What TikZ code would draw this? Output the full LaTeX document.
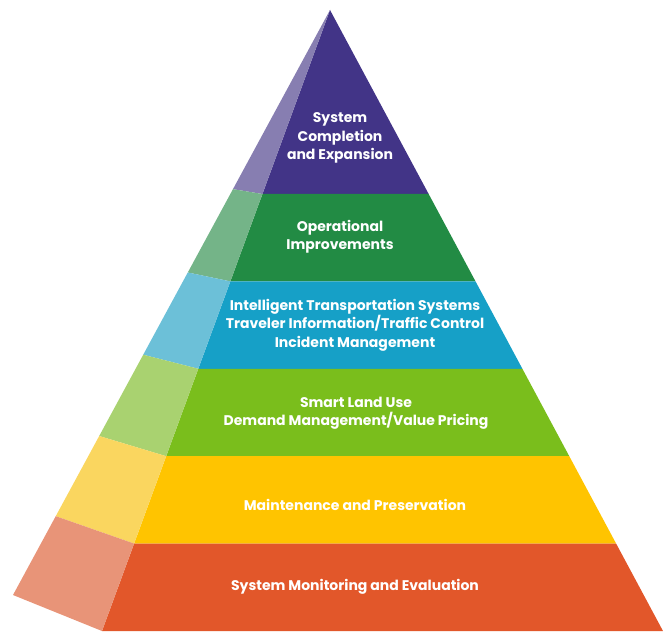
\documentclass[tikz,border=0pt]{standalone}
\usepackage{fontspec}
\setmainfont{Poppins}
\usetikzlibrary{calc}
\definecolor{cPurple}{RGB}{66,52,135}
\definecolor{cGreen}{RGB}{34,139,68}
\definecolor{cBlue}{RGB}{22,160,199}
\definecolor{cLime}{RGB}{122,190,28}
\definecolor{cYellow}{RGB}{255,196,0}
\definecolor{cOrange}{RGB}{226,87,42}
\begin{document}
\begin{tikzpicture}[x=1pt,y=-1pt,every node/.style={font=\bfseries\fontsize{14}{18.5}\selectfont,text=white,align=center}]
	\useasboundingbox(0,0)rectangle(663,631);
	\coordinate(A)at(330,10);
	\coordinate(B)at(102,631);
	\coordinate(C)at(663,631);
	\coordinate(D)at(13,595);
	\coordinate(V)at(-1875,-160);
	%front edge points P, right edge points R, left edge points Q
	\foreach\i/\t in{1/0.2963,2/0.4370,3/0.5777,4/0.7185,5/0.8592}{
		\coordinate(P\i)at($(A)!\t!(B)$);
		\coordinate(R\i)at($(A)!\t!(C)$);
		\coordinate(Q\i)at(intersection of A--D and P\i--V);
	}
	\coordinate(P0)at(A);\coordinate(R0)at(A);\coordinate(Q0)at(A);
	\coordinate(P6)at(B);\coordinate(R6)at(C);\coordinate(Q6)at(D);
	\foreach\i/\j/\c in{0/1/cPurple,1/2/cGreen,2/3/cBlue,3/4/cLime,4/5/cYellow,5/6/cOrange}{
		\fill[\c](P\i)--(R\i)--(R\j)--(P\j)--cycle;
		\fill[\c!62!white!98!black](Q\i)--(P\i)--(P\j)--(Q\j)--cycle;
	}
	\node(top)at(340,138){System\\Completion\\and Expansion};
	\node(ops)at(340,237){Operational\\Improvements};
	\node(its)at(355,325){Intelligent Transportation Systems\\Traveler Information/Traffic Control\\Incident Management};
	\node(land)at(356,413){Smart Land Use\\Demand Management/Value Pricing};
	\node(maint)at(355,505){Maintenance and Preservation};
	\node(monitor)at(355,587){System Monitoring and Evaluation};
\end{tikzpicture}
\end{document}
